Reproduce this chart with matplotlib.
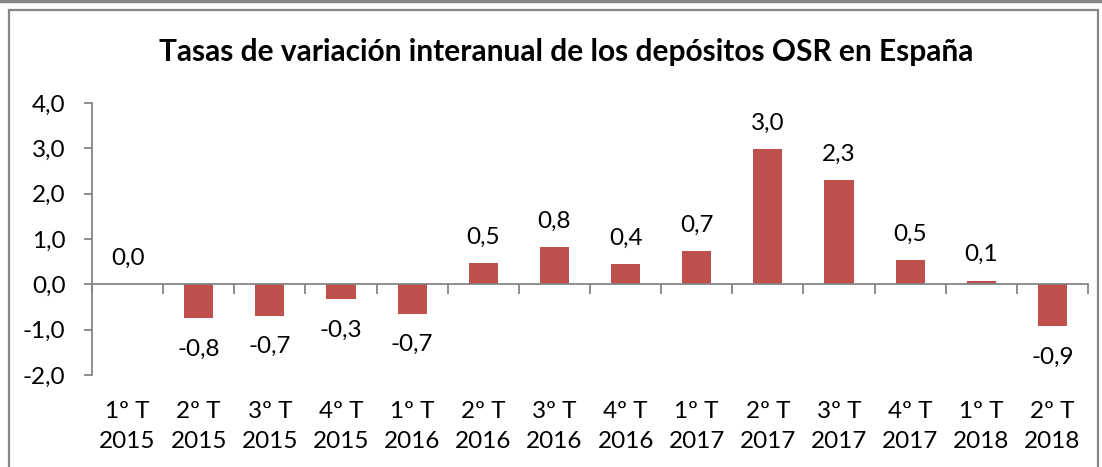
import matplotlib
matplotlib.use("Agg")
import matplotlib.pyplot as plt
from matplotlib.patches import Rectangle
from matplotlib.lines import Line2D
import matplotlib.transforms as mtransforms

quarters = ["1º T", "2º T", "3º T", "4º T", "1º T", "2º T", "3º T", "4º T",
            "1º T", "2º T", "3º T", "4º T", "1º T", "2º T"]
years = ["2015", "2015", "2015", "2015", "2016", "2016", "2016", "2016",
         "2017", "2017", "2017", "2017", "2018", "2018"]
values = [0.0, -0.75, -0.69, -0.33, -0.65, 0.46, 0.82, 0.44, 0.73, 2.98, 2.30, 0.53, 0.08, -0.93]
labels = ["0,0", "-0,8", "-0,7", "-0,3", "-0,7", "0,5", "0,8", "0,4", "0,7", "3,0", "2,3", "0,5", "0,1", "-0,9"]
yticks = [-2.0, -1.0, 0.0, 1.0, 2.0, 3.0, 4.0]
ytick_labels = ["-2,0", "-1,0", "0,0", "1,0", "2,0", "3,0", "4,0"]
title = "Tasas de variación interanual de los depósitos OSR en España"

plt.rcParams['font.family'] = ['Lato', 'DejaVu Sans']
W, H = 1102, 467
fig = plt.figure(figsize=(W / 100, H / 100), dpi=100)
gray = "#868686"
fs = 17.5

# outer frames
fig.add_artist(Rectangle((9 / W, -0.05), (1098 - 9) / W, 1 - 10 / H + 0.05,
                         transform=fig.transFigure, fill=False, edgecolor=gray, lw=1.6))
fig.add_artist(Line2D([0, 1], [1 - 1 / H, 1 - 1 / H], transform=fig.transFigure, color=gray, lw=2.5))

left, right = 92 / W, 1088 / W
bottom, top = 1 - 375 / H, 1 - 103 / H
ax = fig.add_axes([left, bottom, right - left, top - bottom])

n = len(values)
x = list(range(n))
ax.bar(x, values, width=0.41, color="#C0504D", zorder=2)
ax.set_xlim(-0.5, n - 0.5)
ax.set_ylim(-2.0, 4.0)

for s in ["top", "right"]:
    ax.spines[s].set_visible(False)
ax.spines["left"].set_color(gray)
ax.spines["left"].set_linewidth(1.3)
ax.spines["bottom"].set_position(("data", 0))
ax.spines["bottom"].set_color(gray)
ax.spines["bottom"].set_linewidth(1.3)

ax.set_yticks(yticks)
ax.set_yticklabels(ytick_labels, fontsize=fs)
ax.tick_params(axis="y", direction="out", length=6, width=1.3, color=gray, pad=13)

ax.set_xticks([i - 0.5 for i in range(n + 1)])
ax.set_xticklabels([])
ax.tick_params(axis="x", direction="out", length=7, width=1.3, color=gray)

trans = mtransforms.blended_transform_factory(ax.transData, fig.transFigure)
for i in range(n):
    ax.text(x[i], 1 - 411 / H, quarters[i], transform=trans, ha="center", va="center", fontsize=fs)
    ax.text(x[i], 1 - 441 / H, years[i], transform=trans, ha="center", va="center", fontsize=fs)

for i, v in enumerate(values):
    off = 26 if v >= 0 else -31
    ax.annotate(labels[i], (x[i], v), xytext=(0, off), textcoords="offset pixels",
                ha="center", va="center", fontsize=fs)

fig.text(0.5 * (163 + 969) / W, 1 - 52 / H, title, ha="center", va="center",
         fontsize=21.5, fontweight="bold")

fig.savefig("out.png", dpi=100)
